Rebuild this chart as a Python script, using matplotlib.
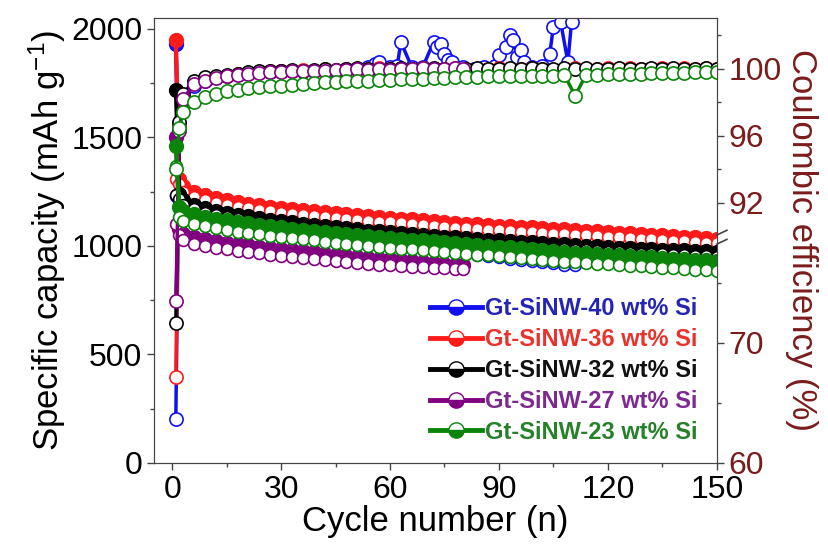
import numpy as np
import matplotlib
matplotlib.use("Agg")
import matplotlib.pyplot as plt
from matplotlib.lines import Line2D

plt.rcParams["font.family"] = ["Liberation Sans", "DejaVu Sans"]
plt.rcParams["mathtext.default"] = "regular"

# cycle numbers
cyc = [1, 2, 3] + list(range(6, 151, 3))
cyc_purple = [1, 2, 3] + list(range(6, 79, 3)) + [80]
cyc_blue = [1, 2, 3] + list(range(6, 112, 3))

# specific capacity (mAh/g), filled = discharge, open = charge
red_dis = [1950, 1310, 1275, 1250, 1235, 1222, 1212, 1203, 1195, 1188,
           1181, 1175, 1169, 1164, 1159, 1155, 1151, 1146, 1142, 1138,
           1134, 1130, 1126, 1122, 1118, 1114, 1110, 1106, 1103, 1100,
           1097, 1094, 1091, 1088, 1085, 1082, 1079, 1076, 1073, 1070,
           1067, 1064, 1061, 1058, 1055, 1052, 1049, 1046, 1043, 1040,
           1037, 1034]
red_chg = [1310, 1285, 1250, 1226, 1212, 1200, 1190, 1181, 1173, 1166,
           1159, 1153, 1147, 1142, 1137, 1133, 1129, 1124, 1120, 1116,
           1112, 1108, 1104, 1100, 1096, 1092, 1088, 1084, 1081, 1078,
           1075, 1072, 1069, 1066, 1063, 1060, 1057, 1054, 1051, 1048,
           1045, 1042, 1039, 1036, 1033, 1030, 1027, 1024, 1021, 1018,
           1015, 1012]
black_dis = [1720, 1240, 1212, 1190, 1175, 1163, 1153, 1144, 1136, 1128,
             1121, 1114, 1108, 1102, 1096, 1091, 1086, 1081, 1076, 1071,
             1067, 1063, 1059, 1055, 1051, 1047, 1043, 1039, 1035, 1031,
             1028, 1025, 1022, 1019, 1016, 1013, 1010, 1007, 1004, 1001,
             998, 995, 992, 989, 987, 985, 983, 981, 979, 977,
             975, 973]
black_chg = [1233, 1218, 1190, 1168, 1153, 1141, 1131, 1122, 1114, 1106,
             1099, 1092, 1086, 1080, 1074, 1069, 1064, 1059, 1054, 1049,
             1045, 1041, 1037, 1033, 1029, 1025, 1021, 1017, 1013, 1009,
             1006, 1003, 1000, 997, 994, 991, 988, 985, 982, 979,
             976, 973, 970, 967, 965, 963, 961, 959, 957, 955,
             953, 951]
green_dis = [1460, 1180, 1160, 1145, 1135, 1126, 1118, 1111, 1104, 1098,
             1092, 1086, 1080, 1075, 1070, 1065, 1060, 1055, 1050, 1045,
             1041, 1037, 1033, 1029, 1025, 1021, 1017, 1013, 1009, 1005,
             1001, 997, 993, 989, 985, 981, 977, 973, 969, 966,
             963, 960, 957, 954, 951, 948, 945, 942, 939, 936,
             933, 930]
green_chg = [1370, 1135, 1115, 1100, 1090, 1081, 1073, 1066, 1059, 1053,
             1047, 1041, 1035, 1030, 1025, 1020, 1015, 1010, 1005, 1000,
             996, 992, 988, 984, 980, 976, 972, 968, 964, 960,
             956, 952, 948, 944, 940, 936, 932, 928, 924, 921,
             918, 915, 912, 909, 906, 903, 900, 897, 894, 891,
             888, 885]
purple_dis = [1500, 1080, 1055, 1040, 1030, 1022, 1015, 1008, 1002, 996,
              990, 985, 980, 975, 970, 965, 960, 955, 950, 946,
              942, 938, 934, 930, 926, 922, 918, 914, 912]
purple_chg = [1100, 1050, 1025, 1010, 1000, 992, 985, 978, 972, 966,
              960, 955, 950, 945, 940, 935, 930, 925, 920, 916,
              913, 910, 907, 904, 901, 898, 896, 894, 893]
blue_dis = [1930, 1235, 1205, 1180, 1165, 1152, 1141, 1131, 1122, 1113,
            1105, 1097, 1090, 1083, 1076, 1069, 1063, 1057, 1051, 1045,
            1039, 1033, 1027, 1021, 1015, 1009, 1003, 997, 991, 985,
            979, 973, 967, 961, 955, 949, 943, 937, 931]
blue_chg = [1230, 1210, 1180, 1155, 1140, 1127, 1116, 1106, 1097, 1088,
            1080, 1072, 1065, 1058, 1051, 1044, 1038, 1032, 1026, 1020,
            1014, 1008, 1002, 996, 990, 984, 978, 972, 966, 960,
            954, 948, 942, 936, 930, 924, 919, 914, 910]

# coulombic efficiency (%)
red_ce = [67.2, 96.7, 98.3, 99.2, 99.4, 99.5, 99.6, 99.7, 99.75, 99.8,
          99.85, 99.9, 99.9, 99.95, 99.9, 100.0, 99.95, 100.0, 99.95, 100.0,
          100.05, 100.0, 99.95, 100.0, 100.05, 100.0, 100.0, 100.05, 100.0, 99.95,
          100.0, 100.05, 100.0, 100.0, 100.05, 100.0, 99.95, 100.0, 100.05, 100.0,
          100.0, 100.05, 100.0, 100.05, 100.0, 100.0, 100.05, 100.0, 100.05, 100.0,
          100.05, 100.0]
black_ce = [71.7, 96.8, 98.5, 99.3, 99.5, 99.6, 99.65, 99.7, 99.8, 99.85,
            99.85, 99.9, 99.95, 99.9, 99.95, 100.0, 99.95, 100.0, 100.05, 100.0,
            99.95, 100.0, 100.05, 100.0, 100.0, 100.05, 100.0, 99.95, 100.0, 100.05,
            100.0, 100.0, 100.05, 100.0, 100.05, 100.0, 100.0, 100.05, 100.0, 100.05,
            100.0, 100.0, 100.05, 100.0, 100.0, 100.05, 100.0, 100.05, 100.0, 100.0,
            100.05, 100.0]
purple_ce = [73.5, 96.3, 98.2, 99.1, 99.3, 99.45, 99.55, 99.65, 99.7, 99.75,
             99.8, 99.8, 99.85, 99.9, 99.9, 99.9, 99.95, 99.95, 100.0, 99.95,
             100.0, 99.95, 100.0, 100.0, 100.05, 100.0, 100.0, 100.05, 100.0]
green_ce = [94.0, 96.5, 97.4, 98.0, 98.3, 98.5, 98.65, 98.75, 98.85, 98.9,
            98.95, 99.0, 99.05, 99.1, 99.15, 99.2, 99.2, 99.25, 99.3, 99.3,
            99.35, 99.35, 99.4, 99.4, 99.4, 99.45, 99.45, 99.5, 99.5, 99.5,
            99.55, 99.55, 99.55, 99.6, 99.6, 99.6, 99.6, 99.65, 98.4, 99.65,
            99.65, 99.7, 99.7, 99.7, 99.7, 99.75, 99.75, 99.75, 99.75, 99.8,
            99.8, 99.8]
blue_ce_cyc = [1, 2, 3, 6, 9, 12, 15, 18, 21, 24,
               27, 30, 33, 36, 39, 42, 45, 48, 51, 54,
               56, 57, 60, 62, 63, 66, 69, 72, 73, 74,
               75, 76, 77, 80, 83, 86, 89, 90, 92, 93,
               94, 95, 96, 97, 99, 102, 104, 105, 107, 109,
               110]
blue_ce = [63.7, 96.5, 98.2, 99.0, 99.3, 99.5, 99.6, 99.7, 99.75, 99.8,
           99.8, 99.85, 99.9, 99.9, 99.9, 99.95, 99.9, 100.0, 100.0, 100.1,
           100.3, 100.4, 100.1, 100.2, 101.6, 100.1, 100.1, 101.6, 101.3, 101.5,
           100.9, 100.5, 100.4, 100.1, 100.0, 100.1, 100.2, 100.8, 101.3, 102.0,
           101.7, 100.7, 101.1, 100.4, 100.1, 100.2, 100.9, 102.5, 102.8, 100.4,
           102.8]

labels = ["Gt-SiNW-40 wt% Si", "Gt-SiNW-36 wt% Si", "Gt-SiNW-32 wt% Si",
          "Gt-SiNW-27 wt% Si", "Gt-SiNW-23 wt% Si"]
colors = ["#1010ee", "#ff1a1a", "#000000", "#800080", "#0a850a"]
text_colors = ["#2525b5", "#e8322c", "#111111", "#7d2a8e", "#27802a"]
maroon = "#7a1c1c"


def ce_pos(v):
    # broken right axis: 60-79 % lower part, 90-103 % upper part
    v = np.asarray(v, float)
    return np.where(v >= 85, 1815.7 + (v - 100) * 77.2, (v - 60) * 55.3)


fig = plt.figure(figsize=(8.29, 5.54), dpi=100)
ax = fig.add_axes([0.1858, 0.1643, 0.6788, 0.8032])

data = [
    (cyc_blue, blue_dis, blue_chg, blue_ce_cyc, blue_ce),
    (cyc, red_dis, red_chg, cyc, red_ce),
    (cyc, black_dis, black_chg, cyc, black_ce),
    (cyc_purple, purple_dis, purple_chg, cyc_purple, purple_ce),
    (cyc, green_dis, green_chg, cyc, green_ce),
]
for i, ((cx, dis, chg, ccx, ce), c) in enumerate(zip(data, colors)):
    z = 2 + i
    ax.plot(cx, dis, "-o", color=c, lw=3, ms=10, mfc=c, mec=c, zorder=z)
    ax.plot(cx, chg, "-o", color=c, lw=1.5, ms=8.5, mfc="white", mec=c,
            mew=1.2, zorder=z)
    ax.plot(ccx, ce_pos(ce), "-o", color=c, lw=2.5, ms=9.5, mfc="white",
            mec=c, mew=1.2, zorder=z)

ax.set_xlim(-5, 150)
ax.set_ylim(0, 2050)
ax.set_xticks(range(0, 151, 30))
ax.set_xticks(range(15, 150, 30), minor=True)
ax.set_yticks(range(0, 2001, 500))
ax.set_yticks(range(250, 2000, 500), minor=True)
ax.tick_params(which="both", direction="out", width=1, colors="#444444",
               labelcolor="black", labelsize=23)
ax.tick_params(which="major", length=5)
ax.tick_params(which="minor", length=3)
ax.set_xlabel("Cycle number (n)", fontsize=25, labelpad=0)
ax.set_ylabel("Specific capacity (mAh g$^{-1}$)", fontsize=25, labelpad=2)
for s in ax.spines.values():
    s.set_color("#444444")

ax2 = ax.twinx()
ax2.set_ylim(0, 2050)
ce_ticks = [60, 70, 92, 96, 100]
ax2.set_yticks(ce_pos(ce_ticks))
ax2.set_yticklabels([str(t) for t in ce_ticks])
ax2.set_yticks(ce_pos([65, 75, 94, 98, 102]), minor=True)
ax2.tick_params(which="both", direction="out", width=1, colors="#444444",
                labelcolor=maroon, labelsize=23)
ax2.tick_params(which="major", length=5)
ax2.tick_params(which="minor", length=3)
ax2.set_ylabel("Coulombic efficiency (%)", fontsize=25, color=maroon,
               rotation=270, labelpad=26)
for s in ax2.spines.values():
    s.set_color("#444444")

# axis break marks on the right spine
for yb in (1008, 1050):
    ax2.plot([1.0, 1.018], [yb, yb + 22], transform=ax2.get_yaxis_transform(),
             clip_on=False, color="#444444", lw=1.2)

handles = [Line2D([], [], color=c, lw=3.5, marker="o", ms=11,
                  fillstyle="bottom", markerfacecoloralt="white", mec=c)
           for c in colors]
leg = ax2.legend(handles, labels, loc="upper left", bbox_to_anchor=(0.49, 0.372),
                 frameon=False, prop={"weight": "bold", "size": 17},
                 handlelength=2.2, handletextpad=0.15, labelspacing=0.33,
                 borderpad=0, borderaxespad=0)
for t, tc in zip(leg.get_texts(), text_colors):
    t.set_color(tc)

fig.savefig("out.png", dpi=100)
